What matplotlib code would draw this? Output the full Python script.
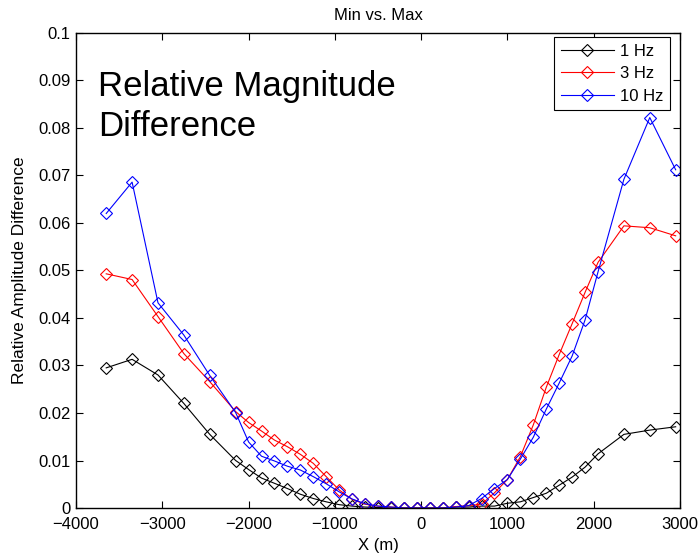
import matplotlib
matplotlib.use("Agg")
import matplotlib.pyplot as plt
from matplotlib.ticker import FuncFormatter

plt.rcParams['font.family'] = ['Liberation Sans', 'DejaVu Sans']

# positions along the profile (m)
x_m = [-3650, -3350, -3050, -2750, -2450, -2150, -2000, -1850, -1700, -1550,
       -1400, -1250, -1100, -950, -800, -650, -500, -350, -200, -50,
       100, 250, 400, 550, 700, 850, 1000, 1150, 1300, 1450,
       1600, 1750, 1900, 2050, 2350, 2650, 2950]

diff_1hz = [0.0295, 0.0313, 0.0280, 0.0220, 0.0155, 0.0100, 0.0081, 0.0063, 0.0052, 0.0041,
            0.0029, 0.0020, 0.0013, 0.0007, 0.0004, 0.0002, 0.0001, 0.0, 0.0, 0.0,
            0.0, 0.0, 0.0002, 0.0002, 0.0004, 0.0004, 0.0010, 0.0013, 0.0022, 0.0031,
            0.0048, 0.0065, 0.0086, 0.0114, 0.0155, 0.0164, 0.0171]

diff_3hz = [0.0493, 0.0481, 0.0403, 0.0325, 0.0266, 0.0203, 0.0180, 0.0162, 0.0143, 0.0129,
            0.0113, 0.0094, 0.0066, 0.0038, 0.0018, 0.0008, 0.0004, 0.0002, 0.0, 0.0,
            0.0, 0.0, 0.0003, 0.0005, 0.0008, 0.0032, 0.0060, 0.0108, 0.0175, 0.0254,
            0.0323, 0.0388, 0.0454, 0.0517, 0.0594, 0.0590, 0.0573]

diff_10hz = [0.0620, 0.0686, 0.0432, 0.0364, 0.0279, 0.0201, 0.0139, 0.0109, 0.0099, 0.0088,
             0.0080, 0.0066, 0.0051, 0.0034, 0.0019, 0.0009, 0.0004, 0.0002, 0.0, 0.0,
             0.0, 0.0, 0.0002, 0.0005, 0.0020, 0.0041, 0.0060, 0.0103, 0.0149, 0.0208,
             0.0263, 0.0320, 0.0396, 0.0497, 0.0692, 0.0822, 0.0712]

fig = plt.figure(figsize=(7, 5.58), dpi=100)
ax = fig.add_axes([0.1086, 0.0896, 0.8628, 0.8513])

style = dict(marker='D', markersize=6, markerfacecolor='none', linewidth=0.8, markeredgewidth=0.8)
ax.plot(x_m, diff_1hz, color='k', label='1 Hz', **style)
ax.plot(x_m, diff_3hz, color='r', label='3 Hz', **style)
ax.plot(x_m, diff_10hz, color='b', label='10 Hz', **style)

ax.set_xlim(-4000, 3000)
ax.set_ylim(0, 0.1)
ax.set_xticks(range(-4000, 3001, 1000))
ax.set_yticks([i / 100 for i in range(11)])
ax.yaxis.set_major_formatter(FuncFormatter(lambda v, p: '%g' % round(v, 3)))
ax.tick_params(direction='in', top=True, right=True, length=5, labelsize=12)
ax.tick_params(axis='x', pad=6.5)
ax.tick_params(axis='y', pad=4)
for s in ax.spines.values():
    s.set_linewidth(1)

ax.set_title('Min vs. Max', fontsize=12, pad=9)
ax.set_xlabel('X (m)', fontsize=12, labelpad=4)
ax.set_ylabel('Relative Amplitude Difference', fontsize=12.5, labelpad=8)

ax.text(0.036, 0.923, 'Relative Magnitude\nDifference', transform=ax.transAxes,
        fontsize=25, va='top', ha='left', linespacing=1.3)

leg = ax.legend(loc='upper right', bbox_to_anchor=(0.9834, 0.9916), fontsize=12,
                fancybox=False, framealpha=1, edgecolor='k', borderaxespad=0,
                handlelength=3.2, handletextpad=0.35, borderpad=0.4, labelspacing=0.45)
leg.get_frame().set_linewidth(0.8)

fig.savefig('out.png', dpi=100)
